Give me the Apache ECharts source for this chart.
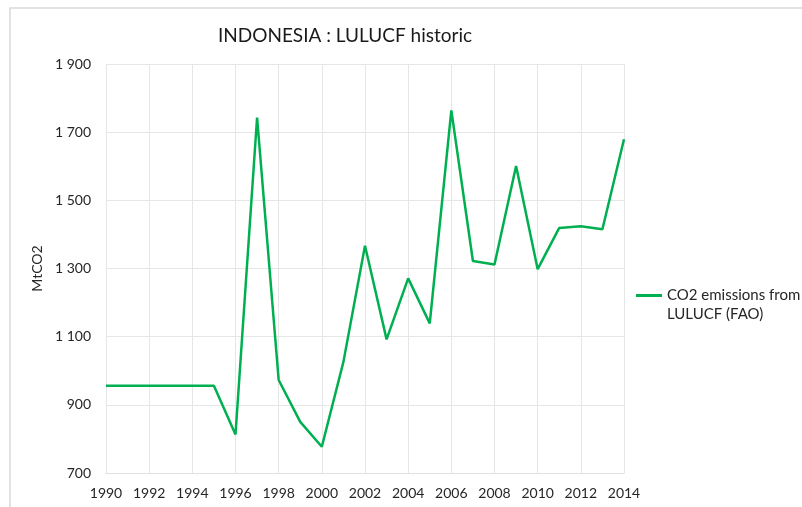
<!DOCTYPE html>
<html><head><meta charset="utf-8">
<script src="https://cdn.jsdelivr.net/npm/echarts@6/dist/echarts.min.js"></script>
<style>html,body{margin:0;padding:0;background:#fff}#c{width:802px;height:507px}</style>
</head><body><div id="c"></div>
<script>
const years = ['1990','1991','1992','1993','1994','1995','1996','1997','1998','1999','2000','2001','2002','2003','2004','2005','2006','2007','2008','2009','2010','2011','2012','2013','2014'];
const emissions = [956,956,956,956,956,956,813,1743,973,850,777,1026,1367,1092,1271,1139,1764,1322,1312,1601,1298,1419,1424,1415,1679];
const yTicks = [700,900,1100,1300,1500,1700,1900];
const seriesName = 'CO2 emissions from LULUCF (FAO)';
const legendLine1 = 'CO2 emissions from';
const legendLine2 = 'LULUCF (FAO)';
const FONT = 'Lato';
const chart = echarts.init(document.getElementById('c'));
chart.setOption({
  animation:false,
  backgroundColor:'#fff',
  textStyle:{fontFamily:FONT},
  graphic:[
    {type:'rect',shape:{x:10,y:8,width:810,height:520},style:{fill:'none',stroke:'#d9d9d9',lineWidth:1.5},silent:true},
    {type:'text',left:667,top:307,style:{text:legendLine2,fontFamily:FONT,fontSize:15,fill:'#262626'},silent:true}
  ],
  title:{text:'INDONESIA : LULUCF historic',left:340,textAlign:'center',top:21,textStyle:{fontFamily:FONT,fontSize:19,fontWeight:'normal',color:'#1a1a1a'}},
  legend:{left:631,top:283,itemWidth:26,itemHeight:3,itemGap:5,
    data:[{name:seriesName,icon:'rect'}],
    formatter:()=>legendLine1,
    textStyle:{fontFamily:FONT,fontSize:15,color:'#262626'}},
  grid:{left:106,right:178,top:64,bottom:34,containLabel:false},
  xAxis:{type:'category',data:years,boundaryGap:false,
    axisLine:{lineStyle:{color:'#e0e0e0'}},axisTick:{show:false},
    axisLabel:{interval:1,color:'#262626',fontSize:14,fontFamily:FONT,margin:13},
    splitLine:{show:true,interval:1,lineStyle:{color:'#e6e6e6',width:1}}},
  yAxis:{type:'value',min:yTicks[0],max:yTicks[yTicks.length-1],interval:200,
    name:'MtCO2',nameLocation:'middle',nameGap:53,nameRotate:90,
    nameTextStyle:{color:'#262626',fontSize:14,fontFamily:FONT},
    axisLine:{show:false},axisTick:{show:false},
    axisLabel:{color:'#262626',fontSize:14,fontFamily:FONT,margin:15,
      formatter:v=>{const s=String(v);return s.length>3?s.slice(0,s.length-3)+' '+s.slice(-3):s;}},
    splitLine:{lineStyle:{color:'#e6e6e6',width:1}}},
  series:[{type:'line',name:seriesName,data:emissions,symbol:'none',
    lineStyle:{color:'#00b050',width:2.5},itemStyle:{color:'#00b050'}}]
});
</script></body></html>
